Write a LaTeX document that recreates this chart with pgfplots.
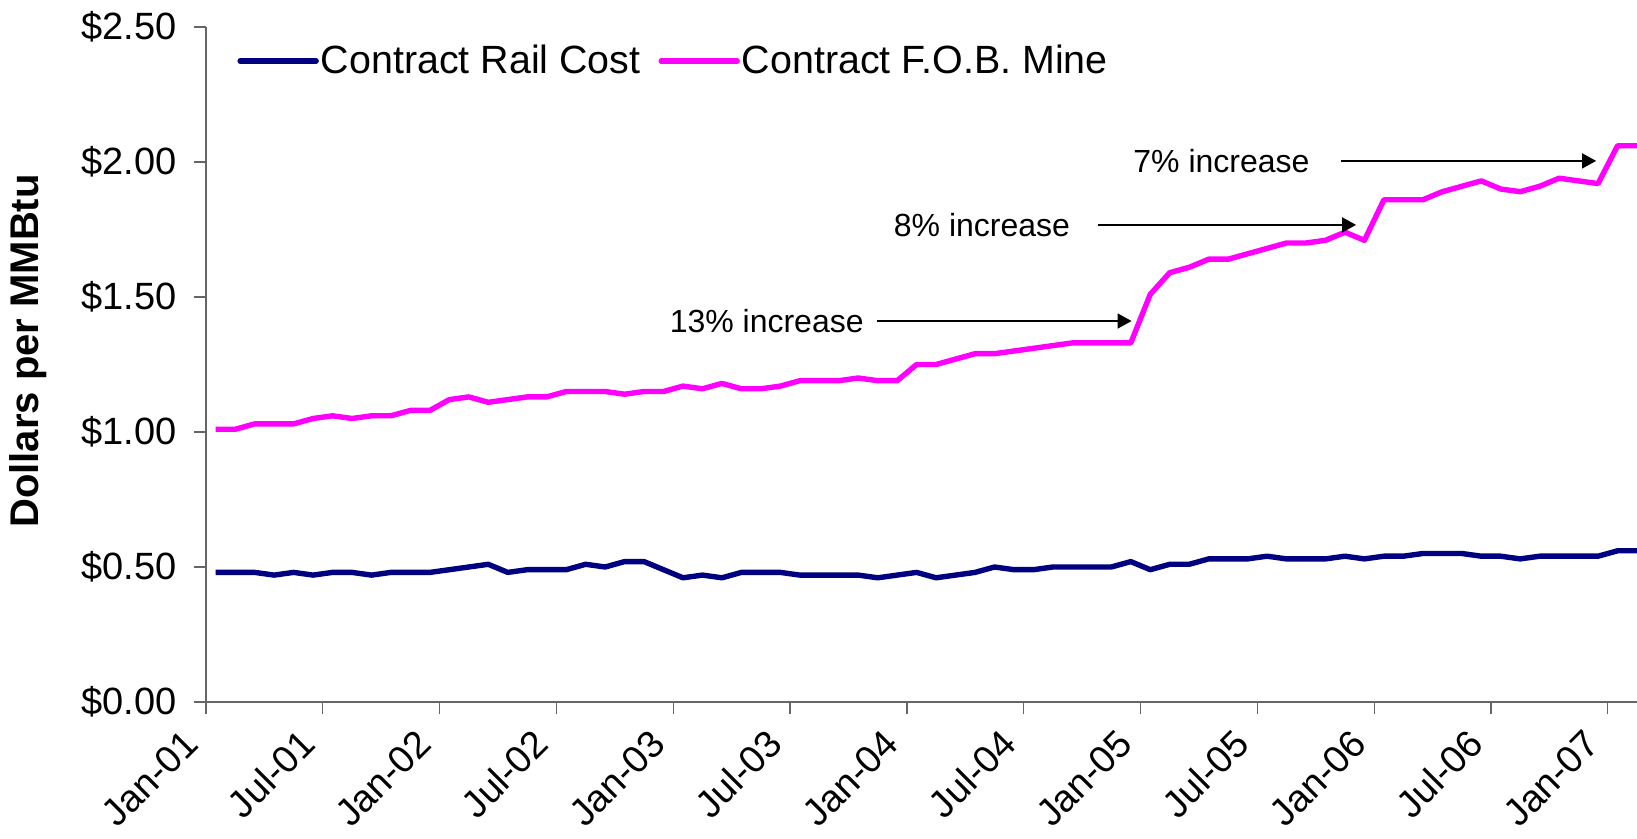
\documentclass[border=0pt]{standalone}
\usepackage{fontspec}
\setmainfont{Liberation Sans}
\usepackage{pgfplots}
\usepackage{pgfplotstable}
\pgfplotsset{compat=1.18}
\usetikzlibrary{arrows.meta}

\definecolor{railblue}{RGB}{0,0,128}
\definecolor{fobpink}{RGB}{255,0,255}

% month index (0 = Jan-01), rail cost, F.O.B. mine price ($/MMBtu)
\pgfplotstableread{
m  rail fob
0  0.48 1.01
1  0.48 1.01
2  0.48 1.03
3  0.47 1.03
4  0.48 1.03
5  0.47 1.05
6  0.48 1.06
7  0.48 1.05
8  0.47 1.06
9  0.48 1.06
10 0.48 1.08
11 0.48 1.08
12 0.49 1.12
13 0.50 1.13
14 0.51 1.11
15 0.48 1.12
16 0.49 1.13
17 0.49 1.13
18 0.49 1.15
19 0.51 1.15
20 0.50 1.15
21 0.52 1.14
22 0.52 1.15
23 0.49 1.15
24 0.46 1.17
25 0.47 1.16
26 0.46 1.18
27 0.48 1.16
28 0.48 1.16
29 0.48 1.17
30 0.47 1.19
31 0.47 1.19
32 0.47 1.19
33 0.47 1.20
34 0.46 1.19
35 0.47 1.19
36 0.48 1.25
37 0.46 1.25
38 0.47 1.27
39 0.48 1.29
40 0.50 1.29
41 0.49 1.30
42 0.49 1.31
43 0.50 1.32
44 0.50 1.33
45 0.50 1.33
46 0.50 1.33
47 0.52 1.33
48 0.49 1.51
49 0.51 1.59
50 0.51 1.61
51 0.53 1.64
52 0.53 1.64
53 0.53 1.66
54 0.54 1.68
55 0.53 1.70
56 0.53 1.70
57 0.53 1.71
58 0.54 1.74
59 0.53 1.71
60 0.54 1.86
61 0.54 1.86
62 0.55 1.86
63 0.55 1.89
64 0.55 1.91
65 0.54 1.93
66 0.54 1.90
67 0.53 1.89
68 0.54 1.91
69 0.54 1.94
70 0.54 1.93
71 0.54 1.92
72 0.56 2.06
73 0.56 2.06
}\costdata

\begin{document}
\begin{tikzpicture}
\begin{axis}[
    scale only axis, width=715.5pt, height=337.5pt,
    xmin=-0.5, xmax=73, ymin=0, ymax=2.5,
    axis x line*=bottom, axis y line*=left,
    axis line style={black!60, line width=0.6pt},
    tick align=outside, major tick length=6pt,
    tick style={black!60, line width=0.6pt},
    xtick={-0.5,5.5,...,71.5},
    xticklabels={Jan-01,Jul-01,Jan-02,Jul-02,Jan-03,Jul-03,Jan-04,Jul-04,Jan-05,Jul-05,Jan-06,Jul-06,Jan-07},
    ytick={0,0.5,...,2.5},
    yticklabels={\$0.00,\$0.50,\$1.00,\$1.50,\$2.00,\$2.50},
    ticklabel style={font=\fontsize{19}{22}\selectfont},
    xticklabel style={xshift=-7.5pt, yshift=-11.5pt, rotate=45, anchor=east, inner sep=0pt},
    yticklabel style={inner sep=0pt, xshift=-8.5pt},
    ylabel={Dollars per MMBtu},
    ylabel style={font=\bfseries\fontsize{20}{23}\selectfont, at={(axis description cs:-0.124,0.52)}, anchor=center, rotate=0},
    legend style={at={(axis description cs:0.0217,0.9496)}, anchor=west, draw=none, fill=none,
        font=\fontsize{19.7}{23}\selectfont, legend columns=2, inner sep=0pt,
        nodes={inner sep=0pt},
        /tikz/every odd column/.append style={column sep=1pt},
        /tikz/every even column/.append style={column sep=9pt}},
    legend image code/.code={\draw[#1, line cap=round] (0pt,0pt) -- (38pt,0pt);},
    every axis plot/.append style={line width=2.7pt, line join=round},
]
\addplot[railblue] table[x=m, y=rail] {\costdata};
\addlegendentry{Contract Rail Cost}
\addplot[fobpink] table[x=m, y=fob] {\costdata};
\addlegendentry{Contract F.O.B. Mine}

\begin{scope}[font=\fontsize{16}{19}\selectfont]
\draw[-{Triangle[length=7pt,width=7.5pt]}, line width=0.8pt] (axis cs:33.96,1.411) -- (axis cs:47.04,1.411);
\node[anchor=east, inner sep=0pt] at (axis cs:33.3,1.411) {13\% increase};
\draw[-{Triangle[length=7pt,width=7.5pt]}, line width=0.8pt] (axis cs:45.3,1.767) -- (axis cs:58.57,1.767);
\node[anchor=east, inner sep=0pt] at (axis cs:43.9,1.767) {8\% increase};
\draw[-{Triangle[length=7pt,width=7.5pt]}, line width=0.8pt] (axis cs:57.8,2.004) -- (axis cs:70.9,2.004);
\node[anchor=east, inner sep=0pt] at (axis cs:56.2,2.004) {7\% increase};
\end{scope}

\coordinate (bl) at (rel axis cs:0,0);
\coordinate (tr) at (rel axis cs:1,1);
\end{axis}
\pgfresetboundingbox
\path[use as bounding box] ([xshift=-103pt,yshift=-68.5pt]bl) rectangle ([yshift=13.5pt]tr);
\end{tikzpicture}
\end{document}
